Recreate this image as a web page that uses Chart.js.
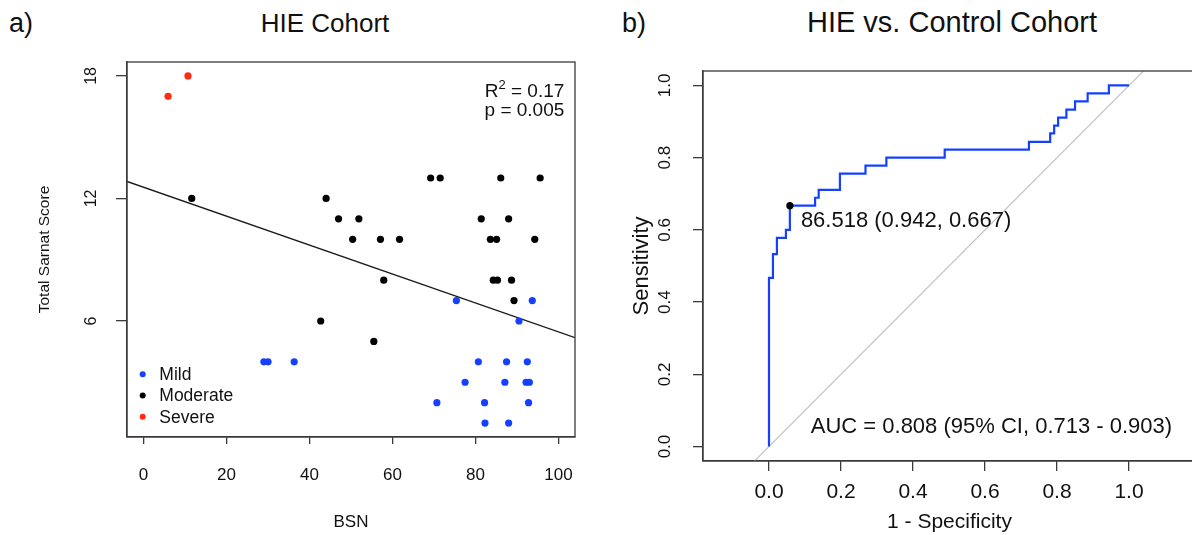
<!DOCTYPE html>
<html>
<head>
<meta charset="utf-8">
<script src="https://cdn.jsdelivr.net/npm/chart.js@4.4.1/dist/chart.umd.min.js"></script>
<style>
  html, body { margin: 0; padding: 0; background: #fff; }
  body { width: 1192px; height: 535px; position: relative; overflow: hidden;
         font-family: "Liberation Sans", Arial, sans-serif; color: #111; }
  canvas { position: absolute; top: 0; }
  .lbl { position: absolute; white-space: nowrap; line-height: 1; }
</style>
</head>
<body>
<div class="lbl" style="left:9px; top:10px; font-size:27px">a)</div>
<div class="lbl" style="left:325px; top:10px; font-size:26px; transform:translateX(-50%)">HIE Cohort</div>
<div class="lbl" style="left:622px; top:10px; font-size:27px">b)</div>
<div class="lbl" style="left:952px; top:8px; font-size:29px; transform:translateX(-50%)">HIE vs. Control Cohort</div>

<canvas id="chartA" width="596" height="535" style="left:0"></canvas>
<canvas id="chartB" width="604" height="535" style="left:596px"></canvas>

<script>
// ---- panel a: BSN vs total Sarnat score ----
const severityLabels = ['Mild', 'Moderate', 'Severe'];
const severityColors = ['#1640ff', '#000000', '#ff2a12'];

const bsnMild    = [75.4, 93.7, 90.5, 29, 30, 36.3, 80.7, 87.5, 92.5, 77.5, 87.1, 92.2, 93.0, 70.7, 82.2, 92.8, 82.3, 88];
const sarnatMild = [7, 7, 6, 4, 4, 4, 4, 4, 4, 3, 3, 3, 3, 2, 2, 2, 1, 1];

const bsnModerate    = [11.6, 44, 69.2, 71.5, 86.1, 95.6, 47, 51.9, 81.4, 88, 50.4, 57.1, 61.7, 83.6, 85.1, 94.3, 57.9, 84.3, 85.3, 88.7, 89.3, 42.7, 55.5];
const sarnatModerate = [12, 12, 13, 13, 13, 13, 11, 11, 11, 11, 10, 10, 10, 10, 10, 10, 8, 8, 8, 8, 7, 6, 5];

const bsnSevere    = [5.9, 10.7];
const sarnatSevere = [17, 18];

// fitted regression line, read at the plot edges
const fitBsn    = [-4, 104];
const fitSarnat = [12.83, 5.18];
const rSquared = 0.17;
const pValue = 0.005;

// ---- panel b: ROC, HIE vs control ----
const rocFpr = [0, 0, 0.011, 0.011, 0.022, 0.022, 0.047, 0.047, 0.058, 0.058, 0.128, 0.128, 0.138, 0.138,
                0.197, 0.197, 0.268, 0.268, 0.326, 0.326, 0.488, 0.488, 0.722, 0.722, 0.781, 0.781, 0.792, 0.792,
                0.803, 0.803, 0.826, 0.826, 0.850, 0.850, 0.885, 0.885, 0.944, 0.944, 1.0];
const rocTpr = [0, 0.467, 0.467, 0.533, 0.533, 0.578, 0.578, 0.6, 0.6, 0.667, 0.667, 0.689, 0.689, 0.711,
                0.711, 0.756, 0.756, 0.778, 0.778, 0.8, 0.8, 0.822, 0.822, 0.844, 0.844, 0.867, 0.867, 0.889,
                0.889, 0.911, 0.911, 0.933, 0.933, 0.956, 0.956, 0.978, 0.978, 1.0, 1.0];
const chanceX = [-0.04, 1.04];
const chanceY = [-0.04, 1.04];

const bestThreshold = 86.518;
const bestSpec = 0.942;
const bestSens = 0.667;
const aucValue = 0.808, aucLow = 0.713, aucHigh = 0.903;
const aucTextAt = [0.116, 0.0366];   // where the AUC note sits, in plot units

const FONT = '"Liberation Sans", Arial, sans-serif';
const INK = '#111';
const AXIS = '#3a3a3a';
Chart.defaults.color = INK;
Chart.defaults.font.family = FONT;

function pairs(xs, ys) {
  return xs.map((x, i) => ({x: x, y: ys[i]}));
}

const frame = {
  id: 'frame',
  afterDraw(chart) {
    const {ctx, chartArea: a} = chart;
    ctx.save();
    ctx.strokeStyle = AXIS;
    ctx.lineWidth = 1.3;
    ctx.strokeRect(a.left, a.top, a.right - a.left, a.bottom - a.top);
    ctx.restore();
  }
};

// legend (bottom left) and R^2 / p note (top right), like R's legend() with bty = "n"
const notesA = {
  id: 'notesA',
  afterDraw(chart) {
    const {ctx, chartArea: a} = chart;
    ctx.save();
    ctx.font = '17.5px ' + FONT;
    ctx.textBaseline = 'middle';
    severityLabels.forEach((lab, i) => {
      const y = a.bottom - 62.7 + i * 21.2;
      ctx.fillStyle = severityColors[i];
      ctx.beginPath();
      ctx.arc(a.left + 15.7, y, 3, 0, Math.PI * 2);
      ctx.fill();
      ctx.fillStyle = INK;
      ctx.fillText(lab, a.left + 32.3, y + 1);
    });

    const right = a.right - 10.7;
    ctx.textBaseline = 'alphabetic';
    ctx.font = '19px ' + FONT;
    const rest = ' = ' + rSquared.toFixed(2);
    const wR = ctx.measureText('R').width;
    const wRest = ctx.measureText(rest).width;
    ctx.font = '13px ' + FONT;
    const w2 = ctx.measureText('2').width;
    let x = right - (wR + w2 + wRest);
    const base = a.top + 34.7;
    ctx.font = '19px ' + FONT;
    ctx.fillText('R', x, base);
    ctx.font = '13px ' + FONT;
    ctx.fillText('2', x + wR, base - 8);
    ctx.font = '19px ' + FONT;
    ctx.fillText(rest, x + wR + w2, base);
    ctx.textAlign = 'right';
    ctx.fillText('p = ' + pValue.toFixed(3), right, a.top + 53.7);
    ctx.restore();
  }
};

const notesB = {
  id: 'notesB',
  afterDraw(chart) {
    const {ctx, scales} = chart;
    ctx.save();
    ctx.fillStyle = INK;
    ctx.font = '22px ' + FONT;
    ctx.textBaseline = 'alphabetic';
    const px = scales.x.getPixelForValue(1 - bestSpec);
    const py = scales.y.getPixelForValue(bestSens);
    ctx.fillText(bestThreshold.toFixed(3) + ' (' + bestSpec.toFixed(3) + ', ' + bestSens.toFixed(3) + ')', px + 11, py + 21.6);
    ctx.fillText('AUC = ' + aucValue.toFixed(3) + ' (95% CI, ' + aucLow.toFixed(3) + ' - ' + aucHigh.toFixed(3) + ')',
                 scales.x.getPixelForValue(aucTextAt[0]), scales.y.getPixelForValue(aucTextAt[1]));
    ctx.restore();
  }
};

function axisGrid(tick) {
  return {drawOnChartArea: false, drawTicks: true, tickLength: tick, color: AXIS, lineWidth: 1.3};
}
const axisBorder = {display: true, color: AXIS, width: 1.3};

const chartA = new Chart(document.getElementById('chartA'), {
  type: 'scatter',
  data: {
    datasets: [
      {label: severityLabels[0], data: pairs(bsnMild, sarnatMild)},
      {label: severityLabels[1], data: pairs(bsnModerate, sarnatModerate)},
      {label: severityLabels[2], data: pairs(bsnSevere, sarnatSevere)}
    ].map((d, i) => Object.assign(d, {
      backgroundColor: severityColors[i], borderColor: severityColors[i],
      borderWidth: 0, pointRadius: 3.6, order: 0
    })).concat([{
      type: 'line', label: 'fit', data: pairs(fitBsn, fitSarnat),
      borderColor: '#1a1a1a', borderWidth: 1.3, pointRadius: 0, order: 1
    }])
  },
  options: {
    responsive: false, animation: false, devicePixelRatio: 1,
    layout: {padding: {left: 0, top: 62, right: 21, bottom: 0}},
    plugins: {legend: {display: false}, tooltip: {enabled: false}},
    scales: {
      x: {
        type: 'linear', min: -4, max: 104,
        afterFit: s => { s.height = 98; },
        ticks: {stepSize: 20, includeBounds: false, maxRotation: 0, autoSkip: false,
                font: {size: 17}, padding: 21},
        grid: axisGrid(7),
        border: axisBorder,
        title: {display: true, text: 'BSN', font: {size: 17}, padding: {top: 0, bottom: 2}}
      },
      y: {
        type: 'linear', min: 0.32, max: 18.68,
        afterFit: s => { s.width = 127; },
        ticks: {stepSize: 6, includeBounds: false, minRotation: 90, maxRotation: 90,
                crossAlign: 'center', font: {size: 16}, padding: 15.4},
        grid: axisGrid(11),
        border: axisBorder,
        title: {display: true, text: 'Total Sarnat Score', font: {size: 15.5}, padding: {top: 35.7, bottom: 0}}
      }
    }
  },
  plugins: [frame, notesA]
});

const chartB = new Chart(document.getElementById('chartB'), {
  type: 'scatter',
  data: {
    datasets: [
      {label: 'best', data: [{x: 1 - bestSpec, y: bestSens}], backgroundColor: '#000', borderWidth: 0,
       pointRadius: 3.6, order: 0},
      {type: 'line', label: 'ROC', data: pairs(rocFpr, rocTpr), borderColor: '#1640ff', borderWidth: 2.2,
       pointRadius: 0, tension: 0, order: 1},
      {type: 'line', label: 'chance', data: pairs(chanceX, chanceY), borderColor: '#c4c4c4', borderWidth: 1.2,
       pointRadius: 0, order: 2}
    ]
  },
  options: {
    responsive: false, animation: false, devicePixelRatio: 1,
    layout: {padding: {left: 0, top: 71, right: 4, bottom: 0}},
    plugins: {legend: {display: false}, tooltip: {enabled: false}},
    scales: {
      x: {
        type: 'linear', min: -0.1833, max: 1.186,
        afterFit: s => { s.height = 74; },
        ticks: {stepSize: 0.2, includeBounds: false, maxRotation: 0, autoSkip: false,
                font: {size: 21}, padding: 8.4, callback: v => v.toFixed(1)},
        grid: axisGrid(10),
        border: axisBorder,
        title: {display: true, text: '1 - Specificity', font: {size: 21}, padding: {top: 0, bottom: 0}}
      },
      y: {
        type: 'linear', min: -0.04, max: 1.04,
        afterFit: s => { s.width = 107; },
        ticks: {stepSize: 0.2, includeBounds: false, minRotation: 90, maxRotation: 90,
                crossAlign: 'center', font: {size: 17}, padding: 15.7, callback: v => v.toFixed(1)},
        grid: axisGrid(10),
        border: axisBorder,
        title: {display: true, text: 'Sensitivity', font: {size: 22}, padding: {top: 32.8, bottom: 0}}
      }
    }
  },
  plugins: [frame, notesB]
});
</script>
</body>
</html>
